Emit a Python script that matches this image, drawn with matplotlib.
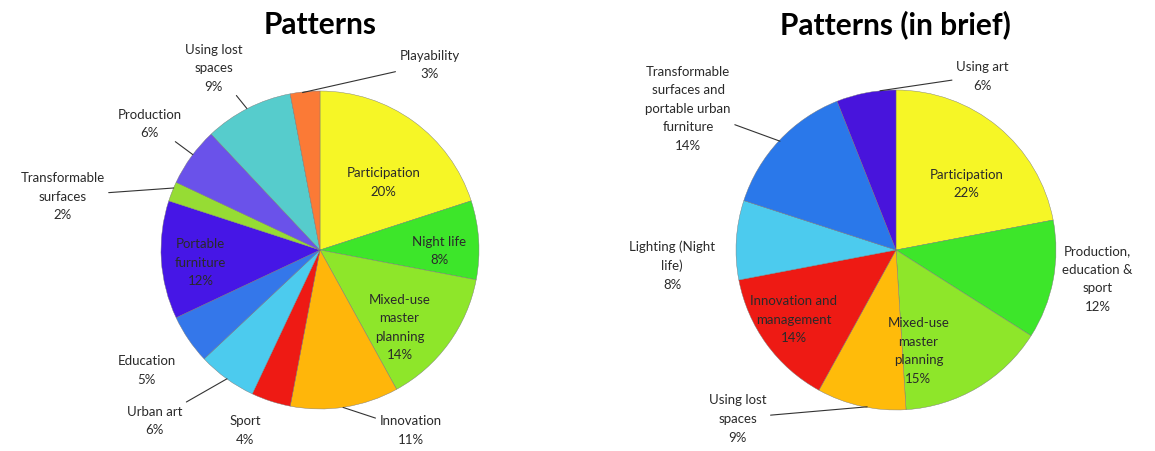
"""Two pie charts: urban design patterns, full list and grouped."""

import matplotlib

matplotlib.use("Agg")

import matplotlib.pyplot as plt

plt.rcParams["font.family"] = ["Lato", "DejaVu Sans"]

W, H = 1155, 452

# left chart: Patterns
left_labels = [
    "Participation\n20%", "Night life\n8%", "Mixed-use\nmaster\nplanning\n14%",
    "Innovation\n11%", "Sport\n4%", "Urban art\n6%", "Education\n5%",
    "Portable\nfurniture\n12%", "Transformable\nsurfaces\n2%", "Production\n6%",
    "Using lost\nspaces\n9%", "Playability\n3%",
]
left_values = [20, 8, 14, 11, 4, 6, 5, 12, 2, 6, 9, 3]
left_colors = [
    "#f6f626", "#3de62a", "#8ee62a", "#ffb60a", "#ee1a14", "#4ccbee",
    "#3477ea", "#4616e6", "#96dc34", "#6a52ea", "#56cccc", "#fb7a36",
]

# right chart: Patterns (in brief)
right_labels = [
    "Participation\n22%", "Production,\neducation &\nsport\n12%",
    "Mixed-use\nmaster\nplanning\n15%", "Using lost\nspaces\n9%",
    "Innovation and\nmanagement\n14%", "Lighting (Night\nlife)\n8%",
    "Transformable\nsurfaces and\nportable urban\nfurniture\n14%", "Using art\n6%",
]
right_values = [22, 12, 15, 9, 14, 8, 14, 6]
right_colors = [
    "#f6f626", "#3de62a", "#8ee62a", "#ffbb0a", "#ee1a14", "#4ccbee",
    "#2a78ea", "#4814dc",
]

# text placement, in pie radii from the centre; None = no leader line
left_text_pos = [
    (0.40, 0.43), (0.75, 0.0), (0.50, -0.48), (0.57, -1.13), (-0.47, -1.13),
    (-1.04, -1.07), (-1.09, -0.75), (-0.75, -0.075), (-1.62, 0.34),
    (-1.07, 0.80), (-0.67, 1.15), (0.69, 1.17),
]
left_leader = [None, None, None, (0.145, -0.99), None, (-0.585, -0.81), None,
               None, (-0.92, 0.39), (-0.80, 0.60), (-0.46, 0.89), (-0.11, 0.99)]

right_text_pos = [
    (0.44, 0.42), (1.26, -0.175), (0.14, -0.625), (-0.99, -1.05), (-0.64, -0.43),
    (-1.40, -0.09), (-1.30, 0.89), (0.54, 1.09),
]
right_leader = [None, None, None, (-0.18, -0.98), None, None, (-0.725, 0.68),
                (-0.10, 0.995)]


def add_pie(cx, cy, r, title, title_x, values, colors, labels, text_pos, leader):
    lim = 1.9
    half = r * lim
    fig = plt.gcf()
    ax = fig.add_axes([(cx - half) / W, (H - cy - half) / H, 2 * half / W, 2 * half / H])
    ax.pie(values, colors=colors, startangle=90, counterclock=False,
           wedgeprops={"linewidth": 0.3, "edgecolor": "#777777"})
    ax.set_xlim(-lim, lim)
    ax.set_ylim(-lim, lim)
    ax.set_aspect("equal")
    ax.axis("off")
    for label, (tx, ty), lead in zip(labels, text_pos, leader):
        if lead is None:
            ax.text(tx, ty, label, ha="center", va="center", fontsize=9.5,
                    linespacing=1.65, color="#2a2a2a")
        else:
            ax.annotate(label, xy=lead, xytext=(tx, ty), ha="center", va="center",
                        fontsize=9.5, linespacing=1.65, color="#2a2a2a",
                        arrowprops={"arrowstyle": "-", "color": "#333333",
                                    "lw": 0.8, "shrinkA": 1, "shrinkB": 0})
    fig.text(title_x / W, 1 - 25 / H, title, ha="center", va="center",
             fontsize=21.5, fontweight="bold")


fig = plt.figure(figsize=(W / 100, H / 100), dpi=100)
add_pie(320, 251, 159, "Patterns", 320, left_values, left_colors, left_labels,
        left_text_pos, left_leader)
add_pie(896, 251, 160, "Patterns (in brief)", 895, right_values, right_colors,
        right_labels, right_text_pos, right_leader)
fig.savefig("out.png", dpi=100)
